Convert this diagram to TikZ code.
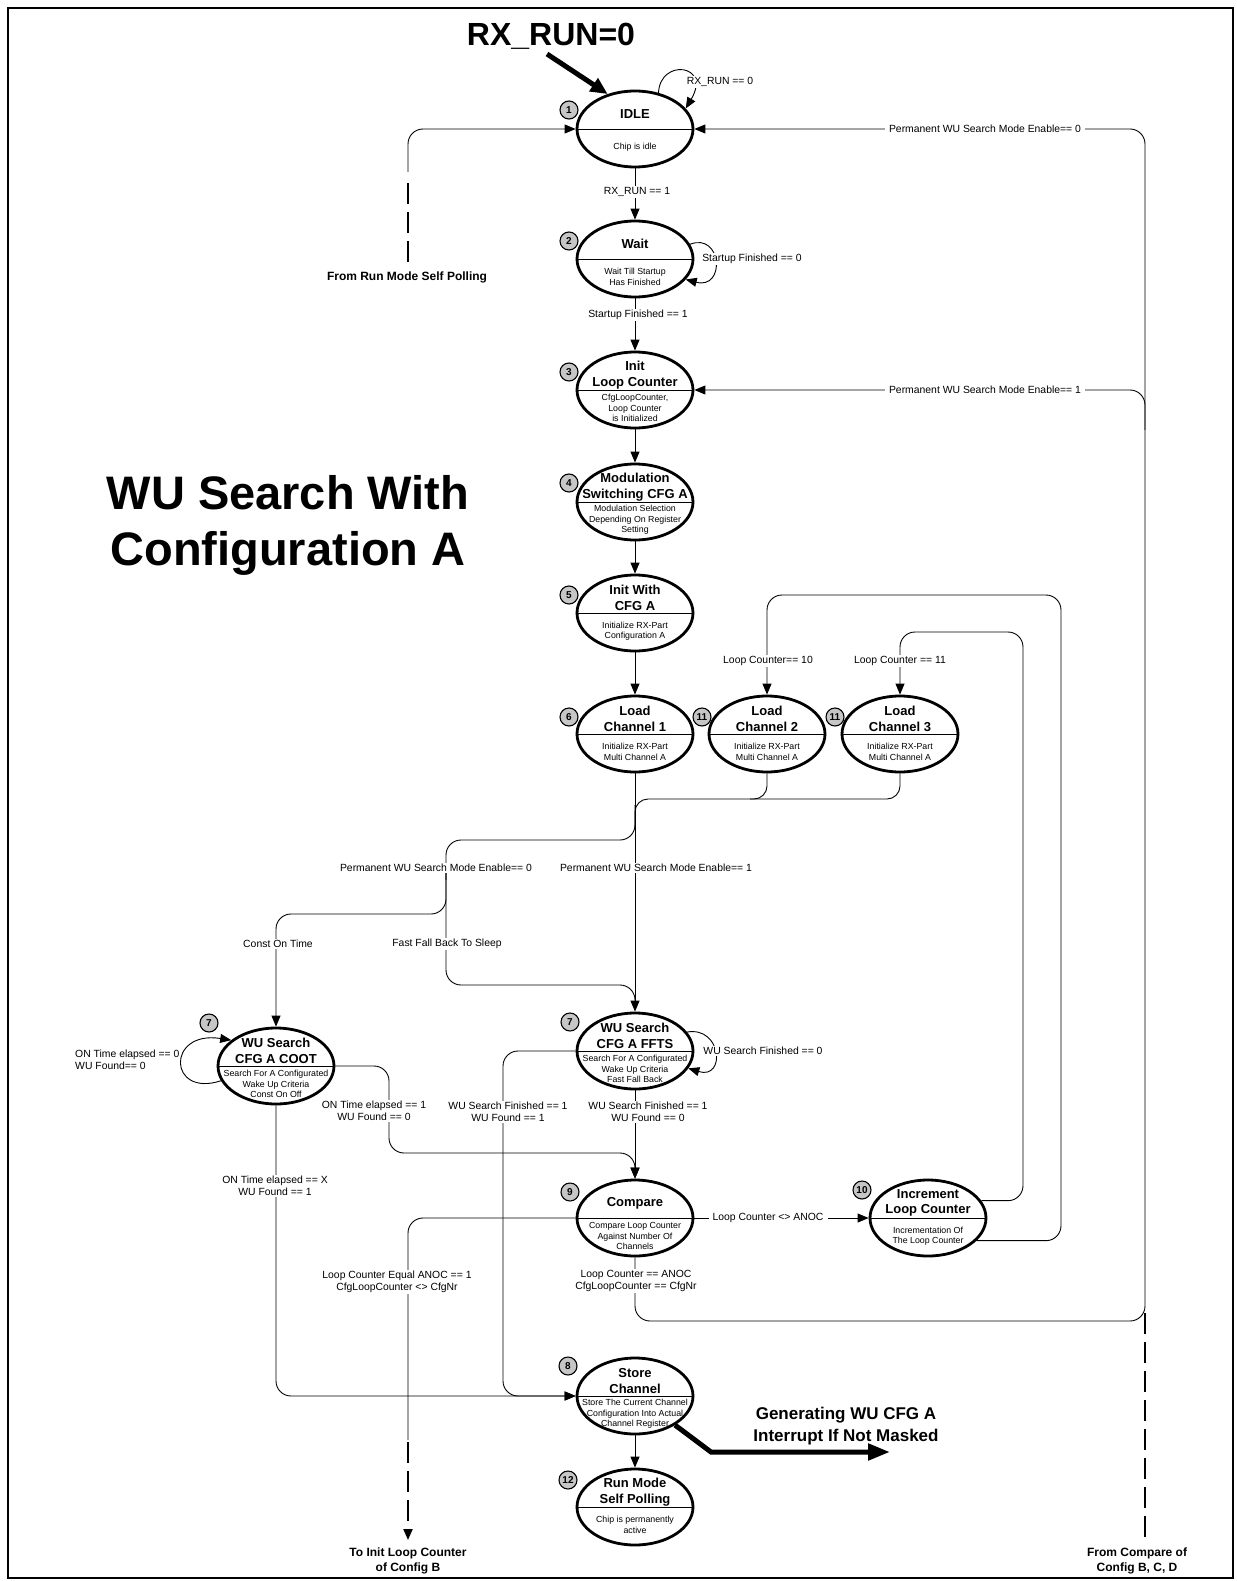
\documentclass[tikz,border=0pt]{standalone}
\usepackage{fontspec}
\setmainfont{Liberation Sans}
\usetikzlibrary{shapes.geometric,arrows.meta,calc}
\newcommand{\fs}[2]{\fontsize{#1}{#2}\selectfont}
\tikzset{
 st/.style={ellipse, draw, fill=white, line width=2.8pt, minimum width=116pt, minimum height=76pt, inner sep=0pt},
 ttl/.style={font=\fs{13}{15.5}\bfseries, align=center, inner sep=0pt},
 sub/.style={font=\fs{8.8}{10.5}, align=center, inner sep=0pt},
 badge/.style={circle, draw, fill=gray!45, line width=1.1pt, minimum size=18pt, inner sep=0pt, font=\fs{10}{10}\bfseries},
 lbl/.style={fill=white, inner xsep=4pt, inner ysep=1.5pt, font=\fs{10.4}{12}, align=center},
 bl/.style={inner sep=0pt, font=\fs{12}{15}\bfseries, align=center},
 con/.style={line width=0.9pt},
 arr/.style={con, -{Triangle[length=11pt,width=9pt]}},
 dsh/.style={line width=2pt, dash pattern=on 21pt off 8pt},
}
\newcommand{\mkstate}[5]{%
  \node[st] (#1) at (#2,#3) {};
  \draw[con] (#1.west) -- (#1.east);
  \node[ttl] (#1t) at ($(#1.center)+(0,-15)$) {#4};
  \node[sub] (#1s) at ($(#1.center)+(0,18)$) {#5};
}
\begin{document}
\begin{tikzpicture}[x=1pt,y=-1pt]
\useasboundingbox (0,0) rectangle (1236,1581);
\draw[line width=2pt] (8,8) rectangle (1233,1578);

% states
\mkstate{idle}{635}{129}{IDLE}{Chip is idle}
\mkstate{wait}{635}{259}{Wait}{Wait Till Startup\\Has Finished}
\mkstate{ilc}{635}{390}{Init\\Loop Counter}{CfgLoopCounter,\\Loop Counter\\is Initialized}
\mkstate{mod}{635}{502}{Modulation\\Switching CFG A}{Modulation Selection\\Depending On Register\\Setting}
\mkstate{icfg}{635}{613}{Init With\\CFG A}{Initialize RX-Part\\Configuration A}
\mkstate{ch1}{635}{734}{Load\\Channel 1}{Initialize RX-Part\\Multi Channel A}
\mkstate{ch2}{767}{734}{Load\\Channel 2}{Initialize RX-Part\\Multi Channel A}
\mkstate{ch3}{900}{734}{Load\\Channel 3}{Initialize RX-Part\\Multi Channel A}
\mkstate{coot}{276}{1066}{WU Search\\CFG A COOT}{Search For A Configurated\\Wake Up Criteria\\Const On Off}
\mkstate{ffts}{635}{1051}{WU Search\\CFG A FFTS}{Search For A Configurated\\Wake Up Criteria\\Fast Fall Back}
\mkstate{cmp}{635}{1218}{Compare}{Compare Loop Counter\\Against Number Of\\Channels}
\mkstate{inc}{928}{1218}{Increment\\Loop Counter}{Incrementation Of\\The Loop Counter}
\mkstate{store}{635}{1396}{Store\\Channel}{Store The Current Channel\\Configuration Into Actual\\Channel Register}
\mkstate{run}{635}{1507}{Run Mode\\Self Polling}{Chip is permanently\\active}

% badges
\node[badge] (b1) at (569,110) {1};
\node[badge] (b2) at (569,241) {2};
\node[badge] (b3) at (569,372) {3};
\node[badge] (b4) at (569,483) {4};
\node[badge] (b5) at (569,595) {5};
\node[badge] (b6) at (569,717) {6};
\node[badge] (b11a) at (702,717) {11};
\node[badge] (b11b) at (835,717) {11};
\node[badge] (b7a) at (209,1023) {7};
\node[badge] (b7b) at (570,1022) {7};
\node[badge] (b9) at (570,1192) {9};
\node[badge] (b10) at (862,1190) {10};
\node[badge] (b8) at (568,1366) {8};
\node[badge] (b12) at (568,1480) {12};

% RX_RUN=0
\node[font=\fs{32}{36}\bfseries, inner sep=0pt] (rx0) at (551,36) {RX\_RUN=0};
\coordinate (rxs) at (547,54);
\draw[line width=5pt, -{Triangle[length=17pt,width=15pt]}] (rxs) -- (idle.128);

% idle loop
\draw[arr] (idle.57) .. controls (660,58) and (712,64) .. (idle.22);
% idle -> wait
\draw[arr] (idle.south) -- (wait.north);
% wait loop
\draw[arr] (wait.15) .. controls (722,232) and (726,290) .. (wait.-22);
% wait -> ilc
\draw[arr] (wait.south) -- (ilc.north);
\draw[arr] (ilc.south) -- (mod.north);
\draw[arr] (mod.south) -- (icfg.north);
\draw[arr] (icfg.south) -- (ch1.north);

% from run mode self polling
\coordinate (rmp) at (408,262);
\draw[dsh] (rmp) -- (408,180);
\draw[arr, rounded corners=15pt] (408,172) -- (408,129) -- (idle.west);

% right side return paths
\draw[arr, rounded corners=15pt] (cmp.south) -- (635,1321) -- (1145,1321) -- (1145,129) -- (idle.east);
\draw[arr, rounded corners=15pt] (1145,430) -- (1145,390) -- (ilc.east);
\coordinate (cfgbcd) at (1145,1537);
\draw[dsh] (cfgbcd) -- (1145,1310);

% channel merge
\draw[con, rounded corners=13pt] (ch2.south) -- (767,799) -- (635,799) -- (635,830);
\draw[con, rounded corners=13pt] (ch3.south) -- (900,799) -- (750,799);
\draw[arr] (ch1.south) -- (ffts.north);

% enable==0 branch
\draw[con, rounded corners=15pt] (635,805) -- (635,840) -- (446,840) -- (446,880);
\draw[arr, rounded corners=15pt] (446,870) -- (446,914) -- (276,914) -- (coot.north);
\draw[con, rounded corners=15pt] (446,870) -- (446,985) -- (635,985) -- (635,1005);

% coot loop
\draw[arr] (coot.195) .. controls (168,1098) and (166,1030) .. (coot.150);
% coot -> compare
\draw[arr, rounded corners=15pt] (coot.east) -- (389,1066) -- (389,1153) -- (635,1153) -- (cmp.north);
% ffts loop
\draw[arr] (ffts.20) .. controls (722,1026) and (726,1080) .. (ffts.-18);
% ffts -> compare
\draw[arr] (ffts.south) -- (cmp.north);
% ffts -> store
\draw[arr, rounded corners=15pt] (ffts.west) -- (503,1051) -- (503,1396) -- (store.west);
% coot -> store
\draw[arr, rounded corners=15pt] (coot.south) -- (276,1396) -- (store.west);
% compare -> config B
\coordinate (cfgb) at (408,1540);
\draw[con, rounded corners=15pt] (cmp.west) -- (408,1218) -- (408,1440);
\draw[dsh, -{Triangle[length=11pt,width=9pt]}] (408,1442) -- (cfgb);
% compare -> increment
\draw[arr] (cmp.east) -- (inc.west);
% increment -> channels
\draw[arr, rounded corners=15pt] (inc.18) -| (1023,632) -| (ch3.north);
\draw[arr, rounded corners=15pt] (inc.-25) -| (1061,595) -| (ch2.north);
% store -> run
\draw[arr] (store.south) -- (run.north);
% interrupt arrow
\draw[line width=5pt, -{Triangle[length=22pt,width=16pt]}] (store.-36) -- (711,1452) -- (890,1452);

% labels
\node[lbl] (l-rx0) at (720,82) {RX\_RUN == 0};
\node[lbl] (l-rx1) at (637,192) {RX\_RUN == 1};
\node[lbl] (l-sf0) at (752,259) {Startup Finished == 0};
\node[lbl] (l-sf1) at (638,315) {Startup Finished == 1};
\node[lbl] (l-pe0r) at (985,129) {Permanent WU Search Mode Enable== 0};
\node[lbl] (l-pe1r) at (985,390) {Permanent WU Search Mode Enable== 1};
\node[lbl] (l-lc10) at (768,661) {Loop Counter== 10};
\node[lbl] (l-lc11) at (900,661) {Loop Counter == 11};
\node[lbl] (l-pe0m) at (436,868) {Permanent WU Search Mode Enable== 0};
\node[lbl] (l-pe1m) at (656,868) {Permanent WU Search Mode Enable== 1};
\node[lbl] (l-cot) at (278,944) {Const On Time};
\node[lbl] (l-ffb) at (447,944) {Fast Fall Back To Sleep};
\node[lbl, align=left, anchor=west, inner xsep=1pt] (l-ot0) at (74,1060) {ON Time elapsed == 0\\WU Found== 0};
\node[lbl] (l-wsf0) at (763,1051) {WU Search Finished == 0};
\node[lbl] (l-ot1) at (374,1111) {ON Time elapsed == 1\\WU Found == 0};
\node[lbl] (l-wsf1b) at (508,1112) {WU Search Finished == 1\\WU Found == 1};
\node[lbl] (l-wsf1a) at (648,1112) {WU Search Finished == 1\\WU Found == 0};
\node[lbl] (l-otx) at (275,1186) {ON Time elapsed == X\\WU Found == 1};
\node[lbl] (l-neq2) at (768,1218) {Loop Counter <> ANOC};
\node[lbl] (l-neq) at (397,1282) {Loop Counter Equal ANOC == 1\\CfgLoopCounter <> CfgNr};
\node[lbl] (l-eq) at (636,1281) {Loop Counter == ANOC\\CfgLoopCounter == CfgNr};

\node[bl] (l-rmp) at (407,277) {From Run Mode Self Polling};
\node[bl] (l-cfgbcd) at (1137,1561) {From Compare of\\Config B, C, D};
\node[bl] (l-cfgb) at (408,1561) {To Init Loop Counter\\of Config B};

\node[font=\fs{17}{22}\bfseries, align=center, inner sep=0pt] (gen) at (846,1426) {Generating WU CFG A\\Interrupt If Not Masked};
\node[font=\fs{47}{56}\bfseries, align=center, inner sep=0pt] (title) at (288,525) {WU Search With\\Configuration A};
\end{tikzpicture}
\end{document}
